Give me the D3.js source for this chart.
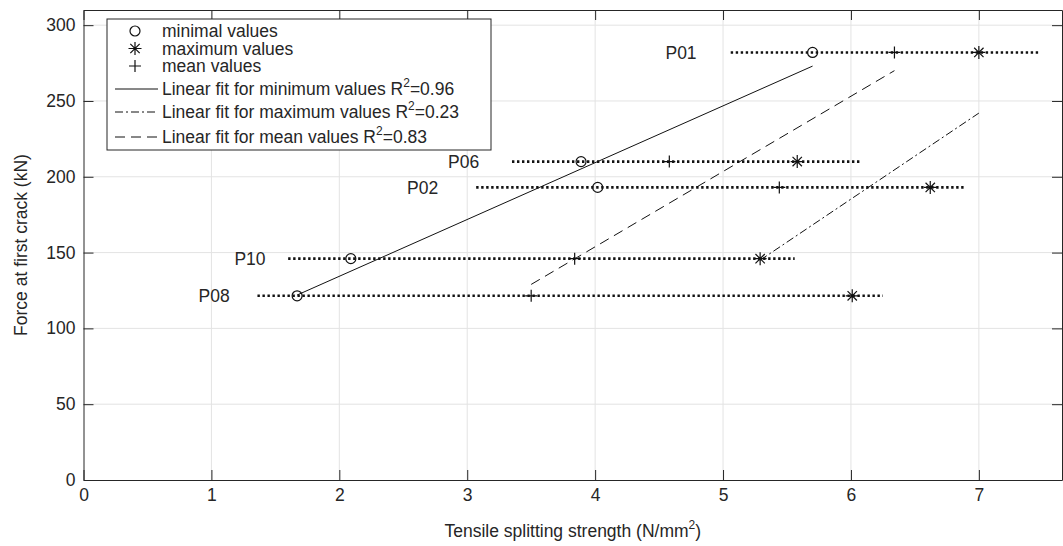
<!DOCTYPE html>
<html>
<head>
<meta charset="utf-8">
<script src="https://cdn.jsdelivr.net/npm/d3@7"></script>
<style>
  body { margin: 0; background: #fff; }
  svg text { font-family: "Liberation Sans", Arial, Helvetica, sans-serif; fill: #262626; }
</style>
</head>
<body>
<div id="chart"></div>
<script>
// data
const specimens = ["P01", "P06", "P02", "P10", "P08"];
const force = [282, 210, 193, 146, 121.5];          // kN at first crack
const minVals = [5.70, 3.89, 4.02, 2.09, 1.67];     // N/mm2
const meanVals = [6.34, 4.58, 5.44, 3.84, 3.50];
const maxVals = [7.00, 5.58, 6.62, 5.29, 6.01];
const rangeStart = [5.06, 3.35, 3.07, 1.60, 1.36];
const rangeEnd = [7.47, 6.08, 6.89, 5.56, 6.25];
const labelX = [4.55, 2.85, 2.53, 1.18, 0.90];

const fitMin = [[1.67, 122], [5.70, 273]];
const fitMax = [[5.29, 145], [7.00, 242]];
const fitMean = [[3.50, 129], [6.34, 270]];

const xTicks = [0, 1, 2, 3, 4, 5, 6, 7];
const yTicks = [0, 50, 100, 150, 200, 250, 300];

const width = 1063, height = 546;
const margin = {top: 10, right: 1, bottom: 66, left: 83.5};

const x = d3.scaleLinear().domain([0, 7.65]).range([margin.left, width - margin.right]);
const y = d3.scaleLinear().domain([0, 310]).range([height - margin.bottom, margin.top]);

const svg = d3.select("#chart").append("svg")
  .attr("width", width)
  .attr("height", height);

// grid
svg.append("g").selectAll("line").data(xTicks.slice(1)).join("line")
  .attr("x1", d => x(d)).attr("x2", d => x(d))
  .attr("y1", y(0)).attr("y2", y(310))
  .attr("stroke", "#e3e3e3").attr("stroke-width", 1);
svg.append("g").selectAll("line").data(yTicks.slice(1)).join("line")
  .attr("x1", x(0)).attr("x2", x(7.65))
  .attr("y1", d => y(d)).attr("y2", d => y(d))
  .attr("stroke", "#e3e3e3").attr("stroke-width", 1);

// axes
const axisStyle = g => {
  g.selectAll("path, line").attr("stroke", "#262626");
  g.selectAll("text").style("font-size", "17.5px").attr("fill", "#262626");
};
svg.append("g").attr("transform", `translate(0,${y(0)})`)
  .call(d3.axisBottom(x).tickValues(xTicks).tickSizeInner(-10).tickSizeOuter(0).tickPadding(9))
  .call(axisStyle);
svg.append("g").attr("transform", `translate(0,${y(310)})`)
  .call(d3.axisTop(x).tickValues(xTicks).tickSizeInner(-10).tickSizeOuter(0).tickFormat(""))
  .call(axisStyle);
svg.append("g").attr("transform", `translate(${x(0)},0)`)
  .call(d3.axisLeft(y).tickValues(yTicks).tickSizeInner(-10).tickSizeOuter(0).tickPadding(8))
  .call(axisStyle);
svg.append("g").attr("transform", `translate(${x(7.65)},0)`)
  .call(d3.axisRight(y).tickValues(yTicks).tickSizeInner(-10).tickSizeOuter(0).tickFormat(""))
  .call(axisStyle);

// axis titles
const xt = svg.append("text")
  .attr("x", (x(0) + x(7.65)) / 2).attr("y", 537)
  .attr("text-anchor", "middle").style("font-size", "17.5px")
  .text("Tensile splitting strength (N/mm");
xt.append("tspan").attr("dy", -8).style("font-size", "12px").text("2");
xt.append("tspan").attr("dy", 8).text(")");

svg.append("text")
  .attr("transform", `translate(27,${(y(0) + y(310)) / 2}) rotate(-90)`)
  .attr("text-anchor", "middle").style("font-size", "17.5px")
  .text("Force at first crack (kN)");

const rows = specimens.map((s, i) => ({
  name: s, f: force[i], min: minVals[i], mean: meanVals[i], max: maxVals[i],
  a: rangeStart[i], b: rangeEnd[i], lx: labelX[i]
}));

// dotted ranges
svg.append("g").selectAll("line").data(rows).join("line")
  .attr("x1", d => x(d.a)).attr("x2", d => x(d.b))
  .attr("y1", d => y(d.f)).attr("y2", d => y(d.f))
  .attr("stroke", "#111").attr("stroke-width", 2.6)
  .attr("stroke-dasharray", "2.4 2.6");

// labels
svg.append("g").selectAll("text").data(rows).join("text")
  .attr("x", d => x(d.lx)).attr("y", d => y(d.f))
  .attr("dy", "0.36em").style("font-size", "17.5px")
  .text(d => d.name);

// fit lines
const line = d3.line().x(d => x(d[0])).y(d => y(d[1]));
const fits = [
  {pts: fitMin, dash: null},
  {pts: fitMax, dash: "8 3 2 3"},
  {pts: fitMean, dash: "10 6"}
];
svg.append("g").selectAll("path").data(fits).join("path")
  .attr("d", d => line(d.pts))
  .attr("fill", "none").attr("stroke", "#111").attr("stroke-width", 1)
  .attr("stroke-dasharray", d => d.dash);

// markers
const circleMark = (g, cx, cy) => g.append("circle")
  .attr("cx", cx).attr("cy", cy).attr("r", 5)
  .attr("fill", "none").attr("stroke", "#111").attr("stroke-width", 1.2);
const plusMark = (g, cx, cy) => g.append("path")
  .attr("d", `M${cx - 6},${cy}H${cx + 6}M${cx},${cy - 6}V${cy + 6}`)
  .attr("stroke", "#111").attr("stroke-width", 1.2);
const starMark = (g, cx, cy) => {
  const r = 6.5, k = r * 0.72;
  g.append("path")
    .attr("d", `M${cx - r},${cy}H${cx + r}M${cx},${cy - r}V${cy + r}` +
      `M${cx - k},${cy - k}L${cx + k},${cy + k}M${cx - k},${cy + k}L${cx + k},${cy - k}`)
    .attr("stroke", "#111").attr("stroke-width", 1.2);
};

const marks = svg.append("g");
rows.forEach(d => {
  circleMark(marks, x(d.min), y(d.f));
  plusMark(marks, x(d.mean), y(d.f));
  starMark(marks, x(d.max), y(d.f));
});

// legend
const lg = svg.append("g");
lg.append("rect")
  .attr("x", 107).attr("y", 19).attr("width", 384).attr("height", 131)
  .attr("fill", "#fff").attr("stroke", "#262626").attr("stroke-width", 1);

const legendMarkers = [
  {label: "minimal values", draw: circleMark, y: 31},
  {label: "maximum values", draw: starMark, y: 48.5},
  {label: "mean values", draw: plusMark, y: 66}
];
legendMarkers.forEach(d => {
  d.draw(lg, 135, d.y);
  lg.append("text").attr("x", 162).attr("y", d.y).attr("dy", "0.36em")
    .style("font-size", "17.5px").text(d.label);
});

const legendLines = [
  {label: "Linear fit for minimum values R", r2: "=0.96", dash: null, y: 89},
  {label: "Linear fit for maximum values R", r2: "=0.23", dash: "8 3 2 3", y: 112},
  {label: "Linear fit for mean values R", r2: "=0.83", dash: "10 6", y: 137}
];
legendLines.forEach(d => {
  lg.append("line").attr("x1", 115).attr("x2", 158)
    .attr("y1", d.y).attr("y2", d.y)
    .attr("stroke", "#111").attr("stroke-width", 1)
    .attr("stroke-dasharray", d.dash);
  const t = lg.append("text").attr("x", 162).attr("y", d.y + 6.3)
    .style("font-size", "17.5px").text(d.label);
  t.append("tspan").attr("dy", -8).style("font-size", "12px").text("2");
  t.append("tspan").attr("dy", 8).text(d.r2);
});
</script>
</body>
</html>
